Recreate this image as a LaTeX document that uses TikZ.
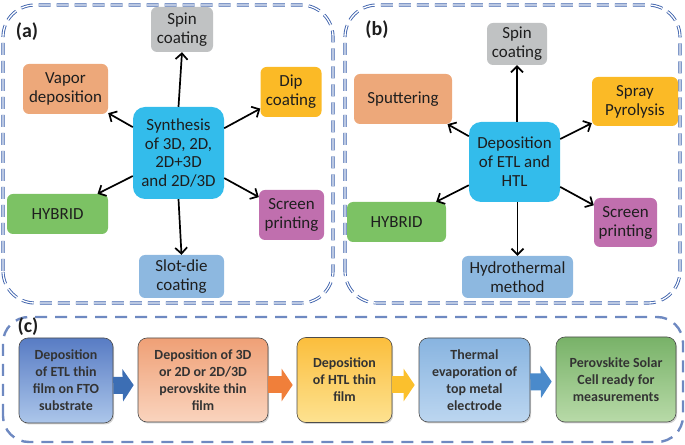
\documentclass[tikz,border=0pt]{standalone}
\usepackage{fontspec}
\setmainfont{Carlito}
\usetikzlibrary{arrows.meta,shadows,calc}

\definecolor{panelcol}{RGB}{62,98,172}
\definecolor{graycol}{RGB}{192,194,195}
\definecolor{salmoncol}{RGB}{237,168,122}
\definecolor{yellowcol}{RGB}{251,186,38}
\definecolor{cyancol}{RGB}{51,188,235}
\definecolor{greencol}{RGB}{124,194,100}
\definecolor{purplecol}{RGB}{192,111,174}
\definecolor{lbluecol}{RGB}{141,184,224}
\definecolor{textcol}{RGB}{30,30,30}
% step boxes of panel (c): top and bottom of each gradient
\definecolor{steponetop}{RGB}{88,124,196}
\definecolor{steponebot}{RGB}{172,198,234}
\definecolor{steptwotop}{RGB}{239,160,118}
\definecolor{steptwobot}{RGB}{250,212,190}
\definecolor{stepthreetop}{RGB}{251,190,60}
\definecolor{stepthreebot}{RGB}{253,226,145}
\definecolor{stepfourtop}{RGB}{136,180,224}
\definecolor{stepfourbot}{RGB}{188,214,240}
\definecolor{stepfivetop}{RGB}{120,178,104}
\definecolor{stepfivebot}{RGB}{184,218,168}
\definecolor{arrowone}{RGB}{60,110,180}
\definecolor{arrowtwo}{RGB}{240,127,58}
\definecolor{arrowthree}{RGB}{251,192,45}
\definecolor{arrowfour}{RGB}{74,138,203}

\begin{document}
\begin{tikzpicture}[>={Straight Barb[length=6bp,width=12bp,line width=1.7bp]},line join=bevel,
  panel/.style={draw=panelcol,double=white,double distance=1.3bp,line width=0.9bp,
    dash pattern=on 12bp off 6bp,rounded corners=32bp},
  panelc/.style={draw=panelcol!75,line width=2.4bp,dash pattern=on 12bp off 8bp,rounded corners=26bp},
  tag/.style={font=\bfseries\fontsize{20}{22}\selectfont,text=textcol},
  method/.style={rounded corners=6bp,align=center,inner sep=1bp,text=textcol,
    font=\fontsize{17}{19}\selectfont},
  hub/.style={method,fill=cyancol,rounded corners=12bp},
  link/.style={->,line width=1.7bp,black},
  stepbox/.style={rounded corners=9bp,draw=black!70,line width=0.6bp,align=center,
    text=black!80,font=\bfseries\fontsize{14}{17}\selectfont,
    top color=#1top,bottom color=#1bot,
    drop shadow={opacity=0.35,shadow xshift=1.2bp,shadow yshift=-1.5bp}},
  flow/.style={draw=#1,line width=17bp,-{Triangle[length=11bp,width=32bp]},shorten >=4bp},
]
\useasboundingbox (0bp,0bp) rectangle (685bp,445bp);
%%
% Panel (a)
\draw [panel] (3bp,142bp) rectangle (333bp,440bp);
\node [tag] (lbla) at (27bp,413bp) {(a)};
  % Node: asynth
\node [hub,minimum width=91bp,minimum height=92bp] (asynth) at (178.5bp,292bp)
  {Synthesis\\of 3D, 2D,\\2D+3D\\and 2D/3D};
  % Node: aspin
\node [method,fill=graycol,minimum width=62bp,minimum height=45bp] (aspin) at (182bp,415.5bp) {Spin\\coating};
  % Node: avapor
\node [method,fill=salmoncol,minimum width=85bp,minimum height=50bp] (avapor) at (65.5bp,356bp) {Vapor\\deposition};
  % Node: adip
\node [method,fill=yellowcol,minimum width=61bp,minimum height=50bp] (adip) at (291bp,353bp) {Dip\\coating};
  % Node: ahybrid
\node [method,fill=greencol,minimum width=101bp,minimum height=40bp] (ahybrid) at (57.5bp,231bp) {HYBRID};
  % Node: ascreen
\node [method,fill=purplecol,minimum width=65bp,minimum height=50bp] (ascreen) at (291.5bp,230bp) {Screen\\printing};
  % Node: aslot
\node [method,fill=lbluecol,minimum width=85bp,minimum height=43bp] (aslot) at (181.5bp,168.5bp) {Slot-die\\coating};
  % Edge: asynth -> aspin, avapor, adip, ahybrid, ascreen, aslot
\draw [link] (asynth.north) -- (aspin.south);
\draw [link] (asynth) -- (avapor);
\draw [link] (asynth) -- (adip);
\draw [link] (asynth) -- (ahybrid);
\draw [link] (asynth) -- (ascreen);
\draw [link] (asynth.south) -- (aslot.north);
%%
% Panel (b)
\draw [panel] (345bp,142bp) rectangle (680bp,440bp);
\node [tag] (lblb) at (377bp,415bp) {(b)};
  % Node: bdepo
\node [hub,minimum width=91bp,minimum height=80bp] (bdepo) at (514.5bp,283bp)
  {Deposition\\of ETL and\\HTL};
  % Node: bspin
\node [method,fill=graycol,minimum width=60bp,minimum height=42bp] (bspin) at (517bp,401bp) {Spin\\coating};
  % Node: bsputter
\node [method,fill=salmoncol,minimum width=98bp,minimum height=50bp] (bsputter) at (403bp,346bp) {Sputtering};
  % Node: bspray
\node [method,fill=yellowcol,minimum width=86bp,minimum height=49bp] (bspray) at (635bp,343.5bp) {Spray\\Pyrolysis};
  % Node: bhybrid
\node [method,fill=greencol,minimum width=99bp,minimum height=40bp] (bhybrid) at (396.5bp,223bp) {HYBRID};
  % Node: bscreen
\node [method,fill=purplecol,minimum width=63bp,minimum height=49bp] (bscreen) at (625.5bp,222.5bp) {Screen\\printing};
  % Node: bhydro
\node [method,fill=lbluecol,minimum width=111bp,minimum height=42bp] (bhydro) at (517.5bp,168bp) {Hydrothermal\\method};
  % Edge: bdepo -> bspin, bsputter, bspray, bhybrid, bscreen, bhydro
\draw [link] (bdepo.north -| bspin.south) -- (bspin.south);
\draw [link] (bdepo) -- (bsputter);
\draw [link] (bdepo) -- (bspray);
\draw [link] (bdepo) -- (bhybrid);
\draw [link] (bdepo) -- (bscreen);
\draw [link] (bdepo.south -| bhydro.north) -- (bhydro.north);
%%
% Panel (c)
\draw [panelc] (3bp,3bp) rectangle (683bp,128bp);
\node [tag] (lblc) at (28bp,118bp) {(c)};
  % Node: c1 .. c5
\node [stepbox=stepone,minimum width=94bp,minimum height=85bp] (c1) at (66bp,64.5bp)
  {Deposition\\of ETL thin\\film on FTO\\substrate};
\node [stepbox=steptwo,minimum width=130bp,minimum height=84bp] (c2) at (203bp,65bp)
  {Deposition of 3D\\or 2D or 2D/3D\\perovskite thin\\film};
\node [stepbox=stepthree,minimum width=95bp,minimum height=85bp] (c3) at (344.5bp,65bp)
  {Deposition\\of HTL thin\\film};
\node [stepbox=stepfour,minimum width=111bp,minimum height=84bp] (c4) at (474.5bp,65bp)
  {Thermal\\evaporation of\\top metal\\electrode};
\node [stepbox=stepfive,minimum width=120bp,minimum height=85bp] (c5) at (616bp,65.5bp)
  {Perovskite Solar\\Cell ready for\\measurements};
  % Edge: c1 -> c2 -> c3 -> c4 -> c5
\draw [flow=arrowone] ([yshift=-5bp]c1.east) -- ([yshift=-5bp]c2.west);
\draw [flow=arrowtwo] ([yshift=-5bp]c2.east) -- ([yshift=-5bp]c3.west);
\draw [flow=arrowthree] ([yshift=-5bp]c3.east) -- ([yshift=-5bp]c4.west);
\draw [flow=arrowfour] ([yshift=-2bp]c4.east) -- ([yshift=-2bp]c5.west);
%
\end{tikzpicture}
\end{document}
